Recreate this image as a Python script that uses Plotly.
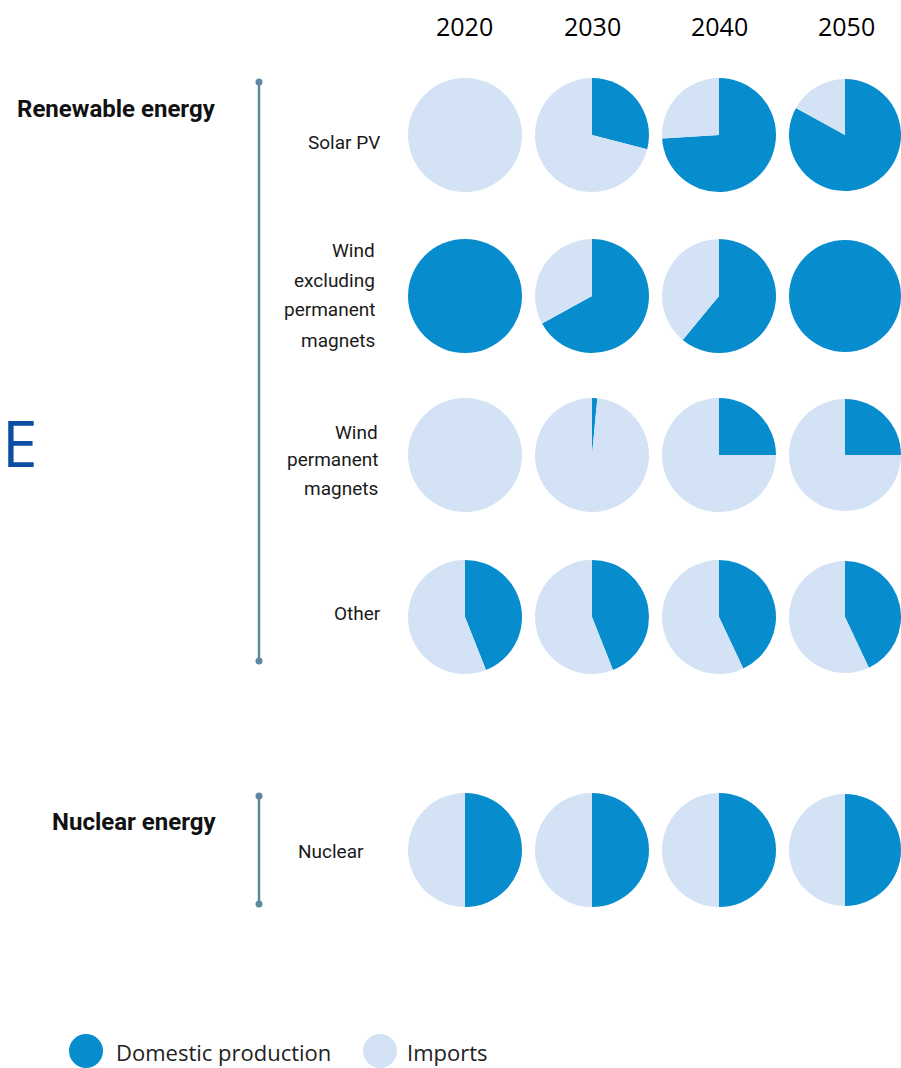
import plotly.graph_objects as go

W, H = 901, 1068

years = ["2020", "2030", "2040", "2050"]
categories = ["Solar PV", "Wind<br>excluding<br>permanent<br>magnets", "Wind<br>permanent<br>magnets", "Other", "Nuclear"]
groups = ["Renewable energy", "Nuclear energy"]
series_names = ["Domestic production", "Imports"]

# share (%) of domestic production and imports, per category, per year
domestic_solar = [0, 29, 74, 83]
imports_solar = [100, 71, 26, 17]
domestic_wind_ex = [100, 67, 61, 100]
imports_wind_ex = [0, 33, 39, 0]
domestic_wind_pm = [0, 1.5, 25, 25]
imports_wind_pm = [100, 98.5, 75, 75]
domestic_other = [44, 44, 43, 43]
imports_other = [56, 56, 57, 57]
domestic_nuclear = [50, 50, 50, 50]
imports_nuclear = [50, 50, 50, 50]

domestic = [domestic_solar, domestic_wind_ex, domestic_wind_pm, domestic_other, domestic_nuclear]
imports = [imports_solar, imports_wind_ex, imports_wind_pm, imports_other, imports_nuclear]

C_DOM = "#078DCE"
C_IMP = "#D3E2F4"
C_LINE = "#5E889F"

col_x = [465, 592, 719, 846]
row_y = [135, 296, 455, 617, 850]
R = 57

LABEL_FONT = "Roboto, sans-serif"
SANS = "Open Sans, Noto Sans, sans-serif"

fig = go.Figure()

for i, cat in enumerate(categories):
    for j, yr in enumerate(years):
        cx, cy = col_x[j], row_y[i]
        x0 = max(0, (cx - R) / W)
        x1 = min(1, (cx + R) / W)
        y0 = 1 - (cy + R) / H
        y1 = 1 - (cy - R) / H
        fig.add_trace(go.Pie(
            labels=series_names,
            values=[domestic[i][j], imports[i][j]],
            marker=dict(colors=[C_DOM, C_IMP], line=dict(width=0)),
            sort=False,
            direction="clockwise",
            rotation=0,
            textinfo="none",
            showlegend=False,
            domain=dict(x=[x0, x1], y=[y0, y1]),
            name=f"{cat.replace('<br>', ' ')} {yr}",
        ))

ann = []
def add_text(x, y, text, size, family, xanchor="center", color="#1a1a1a", align="center"):
    ann.append(dict(x=x / W, y=1 - y / H, xref="paper", yref="paper", text=text,
                    showarrow=False, xanchor=xanchor, yanchor="middle", align=align,
                    font=dict(size=size, family=family, color=color)))

for j, yr in enumerate(years):
    add_text(col_x[j], 26, yr, 25, SANS, color="#000000")

add_text(218, 109, "<b>" + groups[0] + "</b>", 24, LABEL_FONT, xanchor="right", color="#111111")
add_text(218, 822, "<b>" + groups[1] + "</b>", 24, LABEL_FONT, xanchor="right", color="#111111")

# category labels: (right edge, centre y of block, line spacing)
label_pos = [(382, 143, 0), (377, 295, 30), (380, 460, 28), (383, 613, 0), (366, 851, 0)]
for cat, (rx, cy, sp) in zip(categories, label_pos):
    lines = cat.split("<br>")
    n = len(lines)
    for k, ln in enumerate(lines):
        yy = cy + (k - (n - 1) / 2) * sp
        add_text(rx, yy, ln, 19, LABEL_FONT, xanchor="right", align="right")

# stray letter on left edge
add_text(0, 443, "E", 64, SANS, xanchor="left", color="#0B4EA2")

# legend text
add_text(114, 1052, series_names[0], 22, SANS, xanchor="left", color="#222222")
add_text(405, 1052, series_names[1], 22, SANS, xanchor="left", color="#222222")

shapes = []
def px_x(x): return x / W
def px_y(y): return 1 - y / H

# bracket lines
for (ya, yb) in [(82, 661), (796, 904)]:
    shapes.append(dict(type="line", xref="paper", yref="paper",
                       x0=px_x(259), x1=px_x(259), y0=px_y(ya), y1=px_y(yb),
                       line=dict(color=C_LINE, width=2.5)))
    for yy in (ya, yb):
        shapes.append(dict(type="circle", xref="paper", yref="paper",
                           x0=px_x(255.5), x1=px_x(262.5), y0=px_y(yy + 3.5), y1=px_y(yy - 3.5),
                           fillcolor=C_LINE, line=dict(width=0)))

# legend swatches
for cx, col in [(86, C_DOM), (380, C_IMP)]:
    shapes.append(dict(type="circle", xref="paper", yref="paper",
                       x0=px_x(cx - 17), x1=px_x(cx + 17), y0=px_y(1051 + 17), y1=px_y(1051 - 17),
                       fillcolor=col, line=dict(width=0)))

fig.update_layout(
    width=W, height=H,
    margin=dict(l=0, r=0, t=0, b=0),
    paper_bgcolor="white", plot_bgcolor="white",
    annotations=ann, shapes=shapes,
    showlegend=False,
)

fig.write_html("out.html")
